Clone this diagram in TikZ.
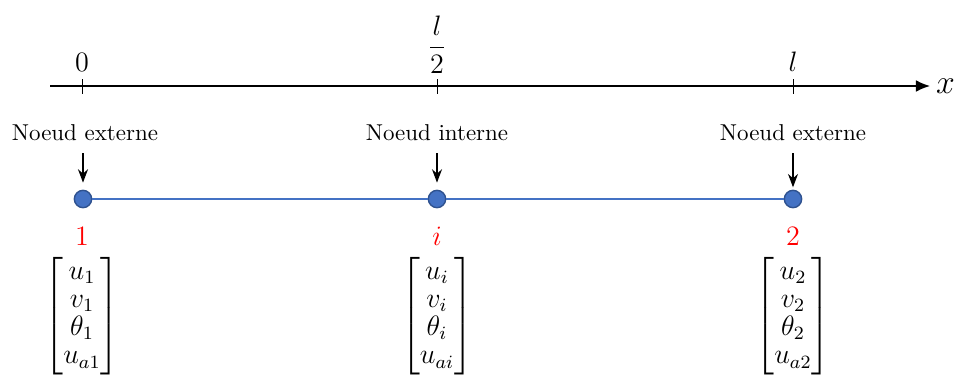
\documentclass[tikz,border=0pt]{standalone}
\usepackage{amsmath,amssymb}
\usetikzlibrary{arrows.meta,positioning}
\definecolor{nodeblue}{HTML}{4472C4}
\definecolor{nodeedge}{HTML}{2F528F}

\begin{document}
\begin{tikzpicture}[x=0.015cm, y=-0.015cm, >=Stealth,
	   nd/.style={circle, draw=nodeedge, fill=nodeblue, line width=0.6pt, minimum size=0.26cm, inner sep=0pt},
	   lab/.style={font=\fontsize{9.8}{12}\selectfont, inner sep=2pt},
	   num/.style={text=red, font=\large},
	   vec/.style={font=\large, inner sep=0pt}]
	  \useasboundingbox (0,0) rectangle (954,378);
	  \renewcommand{\arraystretch}{0.86}
	  % axe x
	  \coordinate (xs) at (50,86);
	  \coordinate (xe) at (930,86);
	  \draw[-{Latex[length=6pt,width=5pt]}, line width=0.6pt] (xs) -- (xe) node[right=-1pt, font=\Large] (xl) {$x$};
	  \foreach \p in {82,437,793} \draw[line width=0.4pt] (\p,79) -- (\p,94);
	  \node[font=\large] (t0) at (82,62) {$0$};
	  \node[font=\large] (tm) at (437,45) {$\dfrac{l}{2}$};
	  \node[font=\large] (tl) at (793,62) {$l$};
	  % noeuds
	  \node[nd] (N1) at (83,199) {};
	  \node[nd] (Ni) at (437,199) {};
	  \node[nd] (N2) at (793,199) {};
	  \draw[nodeblue, line width=1pt] (N1) -- (Ni) -- (N2);
	  \node[lab] (l1) at (85,133) {Noeud externe};
	  \node[lab] (li) at (437,133) {Noeud interne};
	  \node[lab] (l2) at (793,133) {Noeud externe};
	  \draw[->, line width=0.6pt, shorten <=3pt, shorten >=3pt] (l1.south -| N1) -- (N1);
	  \draw[->, line width=0.6pt, shorten <=3pt, shorten >=3pt] (li) -- (Ni);
	  \draw[->, line width=0.6pt, shorten <=3pt, shorten >=1pt] (l2) -- (N2);
	  \node[num] (n1) at (82,236) {$1$};
	  \node[num] (ni) at (437,236) {$i$};
	  \node[num] (n2) at (793,236) {$2$};
	  \node[vec] (v1) at (82,316) {$\begin{bmatrix} u_1\\ v_1\\ \theta_1\\ u_{a1}\end{bmatrix}$};
	  \node[vec] (vi) at (437,316) {$\begin{bmatrix} u_i\\ v_i\\ \theta_i\\ u_{ai}\end{bmatrix}$};
	  \node[vec] (v2) at (793,316) {$\begin{bmatrix} u_2\\ v_2\\ \theta_2\\ u_{a2}\end{bmatrix}$};
	\end{tikzpicture}
\end{document}
